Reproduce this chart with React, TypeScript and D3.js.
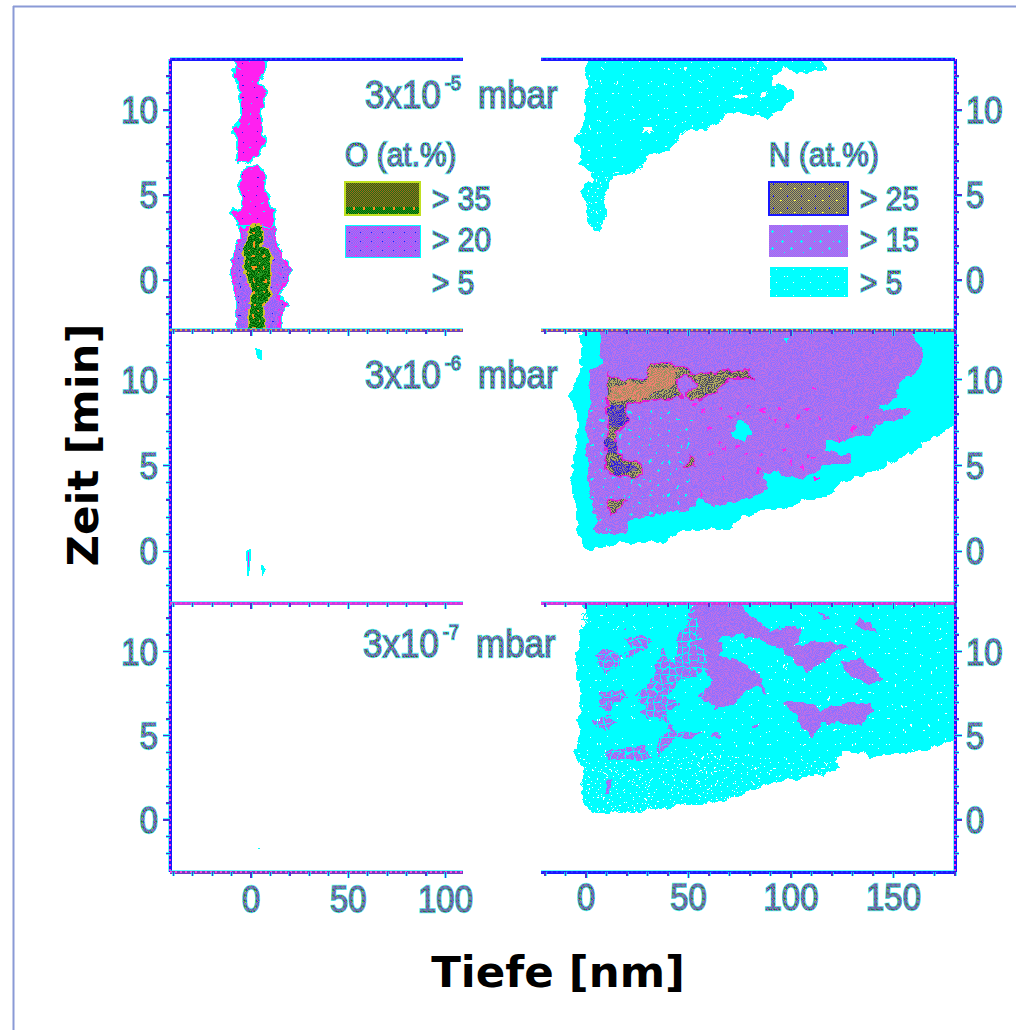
import React from "react";
import * as d3 from "d3";

type P = [number, number];

// ---------- Category labels and tick values ----------
const panelLabels = ["-5", "-6", "-7"];
const yTickLabels = [0, 5, 10];
const leftXTickLabels = [0, 50, 100];
const rightXTickLabels = [0, 50, 100, 150];
const oLegend = ["> 35", "> 20", "> 5"];
const nLegend = ["> 25", "> 15", "> 5"];

// ---------- 3x10^-5 mbar: oxygen contours (nm, min) ----------
const o5Upper: P[] = [[-7,13],[7.2,13],[7.2,12.35],[3.8,11.55],[7.2,11.25],[5.5,10.2],[4.6,9.5],[5.5,8.45],[6.4,7.95],[2.9,7.25],[-6,6.9],[-7,8.25],[-8.25,8.9],[-4,9.7],[-5.3,11.2],[-8.25,11.95]];
const o5Middle: P[] = [[-2.2,6.65],[3.8,6.7],[7.2,6.25],[7.2,5.1],[11.9,3.9],[11.9,3.05],[-5.7,3.05],[-10,3.9],[-4,4.4],[-6,5.5],[-4.8,6.2]];
const o5Lower: P[] = [[-5.3,3.05],[11.9,3.05],[13.2,2.35],[15.8,1.35],[20.1,0.5],[17.5,-0.1],[13.2,-1],[18.4,-1.45],[14.9,-2.15],[14.9,-3.1],[-7,-3.1],[-7,-1.35],[-10,0.6],[-8.25,1.95],[-5.3,2.35]];
const o5High: P[] = [[0.35,3.15],[3.8,3.25],[6.4,2.85],[5.5,1.95],[9.8,1.75],[9.8,-0.8],[6.4,-1.55],[7.2,-3.1],[-1.4,-3.1],[-0.85,-1.55],[0.35,-0.6],[-3.1,0.4],[-4,1.85],[-0.5,2.55]];

// ---------- 3x10^-6 and 3x10^-7 mbar: oxygen specks ----------
const o6SpeckA: P[] = [[-2,0],[-0.5,0.1],[-0.7,-0.7],[-1.5,-1.4],[-2,-0.5]];
const o6SpeckB: P[] = [[5.5,-0.8],[7,-1.05],[6,-1.3]];
const o6SpeckC: P[] = [[2.5,11.8],[5,11.7],[5,11.2],[3.5,11.3]];
const o7Specks: P[] = [[3.5,-1.67]];

// ---------- 3x10^-5 mbar: nitrogen contours ----------
const n5Low: P[] = [[2.8,13],[-1,12.35],[0.3,11.55],[-1.3,10.6],[0.65,9.4],[-5.4,8.35],[-2.9,7.65],[-3.25,6.85],[2.8,6.35],[2.3,5.8],[-2.9,5.2],[0.3,4.4],[0.65,3.7],[3.6,2.8],[6.8,2.85],[9.75,3.8],[8.1,4.5],[10.9,5.5],[13.3,6.1],[21.5,6.2],[26.3,6.55],[31.2,7.45],[40.2,7.55],[45.9,8.45],[50.7,8.85],[54.8,8.7],[63.7,9.2],[70.2,9.9],[78.4,9.85],[88.1,9.55],[94.6,9.9],[100.3,10.6],[100.3,11.2],[96.3,11.35],[90.6,11.55],[90.6,11.95],[97.1,12.45],[106,12.15],[116.6,12.25],[115.8,13]];
const n5Tail: P[] = [[2.8,6.35],[2.3,5.8],[-2.9,5.2],[0.3,4.4],[0.65,3.7],[3.6,2.8],[6.8,2.85],[9.75,3.8],[8.1,4.5],[10.9,5.5],[13.3,6.1]];
const n5HoleA: P[] = [[27.2,9],[31.5,9],[31.5,8.65],[27.2,8.65]];
const n5HoleB: P[] = [[71.9,10.8],[75.1,11],[78.4,10.8],[75.1,10.6]];
const n5HoleC: P[] = [[84.9,10.75],[87.3,11.1],[87.8,10.75]];

// ---------- 3x10^-6 mbar: nitrogen contours ----------
const n6Low: P[] = [[-2.9,12.9],[-2.1,11.95],[-3.7,10.2],[-8.6,8.95],[-4.55,8.25],[-3.7,7.1],[-6.2,5.75],[-6.2,4.75],[-7.8,4],[-5.4,3],[-5.4,1.65],[-2.1,0.5],[1.95,0.1],[16.6,0.5],[37.7,0.45],[45.9,1.2],[70.2,1.3],[76.7,2.05],[86.5,2.35],[97.9,2.55],[106,2.95],[119,3.3],[123.9,4],[141.8,4.75],[156.4,5.65],[172.7,6.8],[181,7.5],[181,12.9]];
const n6Mid: P[] = [[7.15,12.9],[6.8,11.45],[8.45,10.95],[1.15,10.5],[1.95,9.05],[0.3,7.1],[1.15,3.8],[2.75,2.65],[6,1.85],[3.6,1.4],[6,1],[19,1],[22.3,1.95],[36.9,2.15],[54,2.65],[54.8,3.2],[62.1,2.65],[73.5,2.9],[88.9,3.5],[86.5,4.6],[91.4,4.65],[104.4,4.2],[112.5,4.65],[115.8,4.95],[128.8,5.15],[128.8,5.55],[116.6,6],[117.4,6.4],[125.5,6.5],[135.3,6.8],[138.5,6.65],[140.2,7.3],[158,7.95],[158.9,8.2],[153.2,8.45],[145,8.15],[143.4,8.4],[151.5,8.95],[153.2,9.8],[163.7,10.85],[165.4,11.95],[159.7,12.25],[158.9,12.9]];
const n6MidStipple: P[] = [[1.95,9.05],[0.3,7.1],[1.15,3.8],[2.75,2.65],[6,1.85],[3.6,1.4],[6,1],[19,1],[22.3,1.95],[36.9,2.15],[50,2.6],[52,8],[20,8.6]];
const n6HoleA: P[] = [[70.2,6.9],[75.1,7.6],[80,7.4],[81.6,6.9],[76.7,6.4],[71.9,6.6]];
const n6HoleB: P[] = [[94.6,12.4],[98.7,12.4],[97,12.05]];
const n6High: P[] = [[10.4,10.4],[15.8,10],[29.6,10.1],[31.2,10.85],[39.3,11.05],[47.5,10.7],[52.4,10.3],[67,10.5],[70.2,10.6],[80,10.5],[82,10],[78.4,10.1],[70.2,10.1],[65.4,9.5],[57.2,8.85],[50.7,8.75],[49.1,9.15],[53.2,9.7],[52.4,10.1],[49.1,10.2],[44.2,10],[45,9.3],[47.5,8.95],[37.7,8.85],[26.3,8.75],[19,8.5],[20.7,7.7],[16.6,7.1],[14.15,6.9],[15.3,5.75],[17.4,5.35],[26.3,5.25],[27.6,4.55],[24.7,4.3],[14.15,4.35],[10.4,4.75],[9.3,5.95],[10.9,7.1],[10,8.45],[10.4,9.15]];
const n6HighB: P[] = [[10.4,3],[19.9,2.95],[11.8,2.05]];
const n6HighC: P[] = [[50.7,5.55],[53.6,4.95],[48.3,4.95]];
const n6Salmon: P[] = [[10.4,9.15],[15.8,9.8],[29.6,9.9],[32,10.65],[44.2,10.75],[43.4,9.8],[34.5,9.3],[26.3,8.85],[11.7,8.75]];
const n6BlueA: P[] = [[10.4,8.55],[17,8.55],[20.7,7.7],[16.6,7.2],[11.7,7.3]];
const n6BlueB: P[] = [[9.3,6.5],[15,6.5],[15,5.75],[10,5.75]];
const n6BlueC: P[] = [[10.9,5.35],[18.2,5.15],[24.7,4.75],[14.15,4.4]];
const n6Specks: P[] = [[52.4,8.5],[57.2,8.25],[65.4,8.4],[70.2,7.85],[78.4,8.5],[86.5,8.25],[88.9,7.75],[97.9,7.3],[102.8,7.85],[114.1,7.75],[73.5,6.1],[65.4,6.3],[60.5,5.65],[84.9,5.65],[96.3,6.05],[110.9,5.45],[107.6,5.55],[83.3,4.75],[67,4.2],[55.6,3.4],[137.7,7.85],[110.9,9.6],[123.1,6.6],[75,8.1],[92,7.6],[60,7.2],[68,6],[78,5.7],[100,5.2],[105,4.9],[112,4.3],[94,8.4],[108,8.3],[130,7.2]];

// ---------- 3x10^-7 mbar: nitrogen contours ----------
const n7Low: P[] = [[-2.1,13],[0.3,11.95],[-2.9,11.1],[-3.7,10.3],[-5.7,9.7],[-3.25,8.55],[-2.9,6.75],[-3.7,5],[-5.7,4],[-2.1,3.05],[-2.1,1.25],[1.15,0.6],[9.25,0.35],[28,0.5],[44.2,0.8],[65.4,1.05],[78.4,1.65],[89.8,2.15],[107.6,2.55],[123.9,3],[121.5,3.55],[124.7,4],[135.3,4],[138.5,3.8],[151.5,3.9],[167.8,4.2],[175.9,4.75],[181,4.8],[181,13]];
const n7Stipple: P[] = [[-5,4],[60,4],[121,3.5],[123.9,3],[107.6,2.55],[89.8,2.15],[78.4,1.65],[65.4,1.05],[44.2,0.8],[28,0.5],[9.25,0.35],[1.15,0.6],[-2.1,1.25],[-2.1,3.05]];
const n7Grid: P[] = [[-3,13],[52,13],[60,9],[50,3.5],[-3,3.5]];
const n7MidA: P[] = [[52.4,13],[73.5,13],[83.3,11.85],[89.8,11.25],[97.9,11.55],[106,11.35],[101.1,10.3],[112.5,10.7],[128,10.35],[119,9.9],[116.6,9.3],[107.6,8.8],[101.1,9.6],[94.6,10.2],[84.9,10.6],[75.1,11],[66.2,10.9],[65.4,9.7],[75.1,9.5],[84.9,8.6],[88.5,7.4],[83.3,7.95],[76.7,7.55],[73.5,6.95],[63.7,6.6],[54.8,7.4],[62.1,8.35],[57.2,8.8],[45.9,8.35],[40.2,7.35],[45,6.85],[39.3,6.35],[42.6,5.4],[55.6,5.2],[52.4,4.9],[44.2,4.9],[35.3,3.8],[34.5,4.4],[41,5.6],[37.7,6],[26.3,6.2],[29.6,6.65],[24.7,7.35],[33.7,8.55],[34.5,9.5],[36.9,10.3],[43.4,9.2],[44.2,11.1],[49.1,11.45]];
const n7MidB: P[] = [[123.2,9.4],[132.8,9.6],[141.8,8.9],[145,8.35],[138.5,8],[128.8,8.55]];
const n7MidC: P[] = [[96.3,6.95],[112.5,6.9],[114.1,6.45],[120.6,6.85],[127.2,6.95],[140.2,6.95],[139.3,6.35],[133.6,5.5],[125.5,5.85],[114.1,5.65],[110.9,4.9],[106,5.4],[102.8,6.2]];
const n7MidD: P[] = [[3.6,9.8],[9.25,10.15],[18.2,9.8],[16.6,9],[9.25,8.8],[5.2,9.4]];
const n7MidE: P[] = [[19,10.8],[29.6,10.9],[32.9,10.65],[28,10.15],[19.8,9.6],[19,9.9],[23.1,10.3]];
const n7MidF: P[] = [[6.8,7.55],[18.2,7.7],[20.6,7.25],[14.1,6.95],[11.7,6.35],[6.8,6.75]];
const n7MidG: P[] = [[3.6,5.9],[11.7,6.2],[15.3,5.7],[7.65,5.3]];
const n7MidH: P[] = [[9.25,4.1],[29.6,4.4],[31.2,3.65],[21.5,3.55],[11.7,3.65]];
const n7MidI: P[] = [[80,5.6],[84.9,5.8],[84.1,5.45],[81.6,5.4]];
const n7MidJ: P[] = [[60.5,4.9],[62.9,5.4],[66.2,4.8]];
const n7MidK: P[] = [[112.2,12.3],[115.8,12.25],[118.7,11.95],[116.6,11.95]];
const n7MidL: P[] = [[132.8,12.1],[141.8,11.3],[136.9,11.3],[130.7,11.65]];
const n7MidM: P[] = [[17.4,11.35],[19,11.5],[19,11.2]];
const n7MidN: P[] = [[9.25,2.25],[12.5,2.55],[11.7,1.55],[9.25,1.55]];

// ---------- Scales ----------
const xLeft = d3.scaleLinear().domain([-41.7, 109]).range([170, 463]);
const xRight = d3.scaleLinear().domain([-22, 180]).range([541, 955]);
const y5 = d3.scaleLinear().domain([-3, 13]).range([331, 59]);
const y6 = d3.scaleLinear().domain([-3, 12.9]).range([603, 330]);
const y7 = d3.scaleLinear().domain([-3.1, 12.9]).range([872, 603]);
const yPanels = [y5, y6, y7];

const leftXTicks = d3.range(-40, 101, 10);
const rightXTicks = d3.range(-20, 181, 10);
const yTicks = d3.range(-2, 13, 1);

const path = (pts: P[], x: any, y: any) =>
  d3.line<P>().x((d) => x(d[0])).y((d) => y(d[1])).curve(d3.curveLinear)(pts) + "Z";

const CYAN = "#00ffff";
const SANS = "'Liberation Sans', Arial, sans-serif";
const EXTRA = ["#ff9020", "#00ff40", "#ffff40", "#1818ff", CYAN, "#ffffff", "#ff20f0"];

function Tile({ id, size, colors, extra }: { id: string; size: number[]; colors: string[][]; extra?: number[][] }) {
  const [w, h] = size;
  return (
    <pattern id={id} patternUnits="userSpaceOnUse" width={w} height={h}>
      {d3.range(h).flatMap((j) =>
        d3.range(w).map((i) => (
          <rect key={i + "-" + j} x={i} y={j} width={1} height={1} fill={colors[j % colors.length][i % colors[0].length]} />
        ))
      )}
      {(extra || []).map((e, k) => (
        <rect key={"e" + k} x={e[0]} y={e[1]} width={e[2]} height={e[3]} fill={EXTRA[e[4]]} />
      ))}
    </pattern>
  );
}

function FText({ x, y, size, children, anchor, sy }: any) {
  const common = {
    transform: `translate(${x},${y}) scale(1,${sy || 1.1})`,
    fontSize: size,
    fontFamily: SANS,
    textAnchor: anchor || "start",
  };
  return (
    <g>
      <text {...common} fill={CYAN} stroke={CYAN} strokeWidth={2.2} opacity={0.6}>{children}</text>
      <text {...common} fill="url(#fringe)" stroke="url(#fringe)" strokeWidth={0.8}>{children}</text>
    </g>
  );
}

function Area({ d, fill, edge, halo }: { d: string; fill: string; edge?: string; halo?: boolean }) {
  return (
    <g shapeRendering="crispEdges">
      {halo && <path d={d} fill="none" stroke={CYAN} strokeWidth={3.5} />}
      <path d={d} fill={fill} stroke={edge || "none"} strokeWidth={edge ? 1.5 : 0} />
    </g>
  );
}

function AxisLine({ x1, y1, x2, y2, main, dash }: any) {
  return (
    <g shapeRendering="crispEdges">
      <line x1={x1} y1={y1} x2={x2} y2={y2} stroke={CYAN} strokeWidth={4.5} opacity={0.6} />
      <line x1={x1} y1={y1} x2={x2} y2={y2} stroke={main} strokeWidth={3} />
      <line x1={x1} y1={y1} x2={x2} y2={y2} stroke={dash} strokeWidth={2} strokeDasharray="2 3" />
    </g>
  );
}

function Tick({ x1, y1, x2, y2 }: any) {
  return (
    <g shapeRendering="crispEdges">
      <line x1={x1} y1={y1} x2={x2} y2={y2} stroke={CYAN} strokeWidth={3} opacity={0.7} />
      <line x1={x1} y1={y1} x2={x2} y2={y2} stroke="#5030d0" strokeWidth={1.3} />
    </g>
  );
}

export default function App() {
  const purple = "url(#purple)";
  const grey = "url(#grey)";
  const r5 = (p: P[]) => path(p, xRight, y5);
  const r6 = (p: P[]) => path(p, xRight, y6);
  const r7 = (p: P[]) => path(p, xRight, y7);
  const l5 = (p: P[]) => path(p, xLeft, y5);
  const l6 = (p: P[]) => path(p, xLeft, y6);

  const panelTitleY = [108, 388, 657];
  const panelTitleX = [365, 365, 363];
  const panelTops = [59, 330, 603];
  const panelMain = ["#1818ff", "#7040c0", "#c040e0"];
  const panelDash = ["#5030ff", "#e0a040", "#ff30e0"];

  return (
    <svg width={1016} height={1030} viewBox="0 0 1016 1030" style={{ position: "absolute", left: 0, top: 0, display: "block", background: "#fff" }}>
      <defs>
        <Tile id="purple" size={[2, 2]} colors={[["#9070ff", "#bc70e8"], ["#bc70e8", "#9070ff"]]} />
        <Tile id="grey" size={[8, 8]} colors={[["#505060", "#b0a860"], ["#b0a860", "#505060"]]} extra={[[3, 3, 1, 1, 3]]} />
        <Tile id="greyLeg" size={[14, 12]} colors={[["#505060", "#b0a860"], ["#b0a860", "#505060"]]} extra={[[3, 3, 1, 2, 3], [10, 8, 2, 1, 2]]} />
        <Tile id="salmon" size={[4, 4]} colors={[["#f08070", "#a09060"], ["#a09060", "#f08070"]]} />
        <Tile id="blue" size={[4, 4]} colors={[["#3020e0", "#8a7090"], ["#8a7090", "#3020e0"]]} />
        <Tile id="green" size={[10, 12]} colors={[["#006000", "#209820"], ["#209820", "#006000"]]} extra={[[3, 3, 2, 3, 0], [8, 9, 1, 2, 0]]} />
        <Tile id="olive" size={[2, 2]} colors={[["#a86018", "#187818"], ["#187818", "#a86018"]]} />
        <Tile id="magenta" size={[13, 11]} colors={[["#ff20f0"]]} extra={[[3, 4, 1, 1, 4], [9, 9, 1, 1, 3]]} />
        <Tile id="o20" size={[11, 9]} colors={[["#8a66ff", "#c060f0"], ["#c060f0", "#8a66ff"]]} extra={[[3, 3, 2, 1, 6], [8, 7, 1, 1, 3]]} />
        <Tile id="cyanGrid" size={[7, 7]} colors={[["rgba(0,0,0,0)"]]} extra={[[3, 0, 1, 7, 4], [0, 3, 7, 1, 4]]} />
        <Tile id="cyanDots" size={[19, 17]} colors={[["rgba(0,0,0,0)"]]} extra={[[3, 2, 1, 3, 4], [2, 3, 3, 1, 4], [12, 9, 1, 3, 4], [11, 10, 3, 1, 4], [16, 3, 1, 1, 4], [5, 14, 1, 1, 4]]} />
        <Tile id="whiteDense" size={[18, 18]} colors={[["rgba(0,0,0,0)"]]} extra={[[0, 0, 1, 1, 5], [6, 1, 1, 1, 5], [12, 0, 1, 1, 5], [3, 6, 1, 1, 5], [9, 5, 1, 1, 5], [15, 7, 1, 1, 5], [1, 11, 1, 1, 5], [7, 12, 1, 1, 5], [13, 10, 1, 1, 5], [4, 15, 1, 1, 5], [10, 16, 1, 1, 5], [16, 14, 1, 1, 5]]} />
        <Tile id="whiteSparse" size={[17, 13]} colors={[["rgba(0,0,0,0)"]]} extra={[[2, 3, 1, 1, 5], [5, 3, 1, 1, 5], [11, 9, 1, 1, 5]]} />
        <Tile id="fringe" size={[5, 5]} colors={[["#1a30e0", "#20b040", "#e020d0", "#707050", "#20c040"], ["#30a030", "#d020c0", "#2828d8", "#30b030", "#d8c030"], ["#d820d0", "#2030e0", "#606060", "#e020c0", "#2030e0"], ["#30c040", "#808040", "#2030e0", "#30b040", "#e020d0"], ["#2828e0", "#e020d0", "#30b040", "#303050", "#30a040"]]} />
        <filter id="rough" filterUnits="userSpaceOnUse" x={0} y={0} width={1016} height={1030} colorInterpolationFilters="sRGB">
          <feTurbulence type="fractalNoise" baseFrequency="0.11" numOctaves={2} seed={4} result="n" />
          <feDisplacementMap in="SourceGraphic" in2="n" scale={9} xChannelSelector="R" yChannelSelector="G" />
        </filter>
        <clipPath id="c5"><rect x={170} y={59} width={785} height={271} /></clipPath>
        <clipPath id="c6"><rect x={170} y={330} width={785} height={273} /></clipPath>
        <clipPath id="c7"><rect x={170} y={603} width={785} height={269} /></clipPath>
      </defs>

      {/* Page frame */}
      <line x1={13.5} y1={6} x2={13.5} y2={1030} stroke="#8a9ad6" strokeWidth={2} />
      <line x1={13} y1={6.5} x2={1016} y2={6.5} stroke="#8a9ad6" strokeWidth={2} />

      {/* 3x10^-5 mbar */}
      <g clipPath="url(#c5)">
        <g filter="url(#rough)">
          <Area d={l5(o5Upper)} fill="url(#magenta)" halo />
          <Area d={l5(o5Middle)} fill="url(#magenta)" halo />
          <Area d={l5(o5Lower)} fill="url(#o20)" edge="#ff20f0" halo />
          <Area d={l5(o5High)} fill="url(#green)" edge="#d0c030" />
          <Area d={r5(n5Low)} fill={CYAN} />
          <Area d={r5(n5Low)} fill="url(#whiteSparse)" />
          <Area d={r5(n5Tail)} fill="url(#whiteDense)" />
          {[n5HoleA, n5HoleB, n5HoleC].map((h, i) => <Area key={i} d={r5(h)} fill="#fff" />)}
        </g>
      </g>

      {/* 3x10^-6 mbar */}
      {[o6SpeckA, o6SpeckB, o6SpeckC].map((h, i) => <Area key={i} d={l6(h)} fill={i === 0 ? "#ff20f0" : CYAN} edge={CYAN} />)}
      <g clipPath="url(#c6)">
        <g filter="url(#rough)">
          <Area d={r6(n6Low)} fill={CYAN} />
          <Area d={r6(n6Mid)} fill={purple} />
          <Area d={r6(n6MidStipple)} fill="url(#cyanDots)" />
          {[n6HoleA, n6HoleB].map((h, i) => <Area key={i} d={r6(h)} fill={CYAN} />)}
          {n6Specks.map((p, i) => (
            <g key={i} fill="#ff20f0" shapeRendering="crispEdges">
              <rect x={xRight(p[0]) - 2} y={y6(p[1]) - 0.5} width={5} height={1.5} />
              <rect x={xRight(p[0]) - 0.5} y={y6(p[1]) - 2} width={1.5} height={5} />
            </g>
          ))}
          <Area d={r6(n6High)} fill={grey} edge="#e020d0" />
          <Area d={r6(n6HighB)} fill={grey} edge="#e020d0" />
          <Area d={r6(n6HighC)} fill={grey} edge="#e020d0" />
          <Area d={r6(n6Salmon)} fill="url(#salmon)" />
          {[n6BlueA, n6BlueB, n6BlueC].map((h, i) => <Area key={i} d={r6(h)} fill="url(#blue)" />)}
        </g>
      </g>

      {/* 3x10^-7 mbar */}
      {o7Specks.map((p, i) => (
        <rect key={i} x={xLeft(p[0])} y={y7(p[1])} width={2} height={1} fill={CYAN} shapeRendering="crispEdges" />
      ))}
      <g clipPath="url(#c7)">
        <g filter="url(#rough)">
          <Area d={r7(n7Low)} fill={CYAN} />
          <Area d={r7(n7Low)} fill="url(#whiteSparse)" />
          <Area d={r7(n7Stipple)} fill="url(#whiteDense)" />
          {[n7MidA, n7MidB, n7MidC, n7MidD, n7MidE, n7MidF, n7MidG, n7MidH, n7MidI, n7MidJ, n7MidK, n7MidL, n7MidM, n7MidN].map((h, i) => (
            <Area key={i} d={r7(h)} fill={purple} />
          ))}
          <Area d={r7(n7Grid)} fill="url(#cyanGrid)" />
        </g>
      </g>

      {/* Axes: vertical spines */}
      <AxisLine x1={170} y1={59} x2={170} y2={872} main="#1818ff" dash="#ff20e0" />
      <AxisLine x1={955} y1={59} x2={955} y2={872} main="#1818ff" dash="#ff20e0" />

      {/* Axes: horizontal spines */}
      {panelTops.map((t, i) => (
        <g key={t}>
          <AxisLine x1={170} y1={t} x2={463} y2={t} main={panelMain[i]} dash={panelDash[i]} />
          <AxisLine x1={541} y1={t} x2={955} y2={t} main={panelMain[i]} dash={panelDash[i]} />
        </g>
      ))}
      <AxisLine x1={170} y1={872} x2={463} y2={872} main="#7040c0" dash="#ff40e0" />
      <AxisLine x1={541} y1={872} x2={955} y2={872} main="#1818ff" dash="#3030ff" />

      {/* Ticks */}
      {yPanels.map((y, i) =>
        yTicks.map((v) => {
          const long = v % 5 === 0;
          return (
            <g key={i + "-" + v}>
              <Tick x1={170} x2={long ? 163 : 166} y1={y(v)} y2={y(v)} />
              <Tick x1={955} x2={long ? 962 : 959} y1={y(v)} y2={y(v)} />
            </g>
          );
        })
      )}
      {[330, 603, 872].map((base) => (
        <g key={base}>
          {leftXTicks.map((v) => (
            <Tick key={v} x1={xLeft(v)} x2={xLeft(v)} y1={base} y2={base + (v % 50 === 0 ? 6 : 4)} />
          ))}
          {rightXTicks.map((v) => (
            <Tick key={v} x1={xRight(v)} x2={xRight(v)} y1={base} y2={base + (v % 50 === 0 ? 6 : 4)} />
          ))}
        </g>
      ))}

      {/* Tick labels */}
      {yPanels.map((y, i) =>
        yTickLabels.map((v) => (
          <g key={i + "-" + v}>
            <FText x={158} y={y(v) + 13} size={33} anchor="end">{v}</FText>
            <FText x={966} y={y(v) + 13} size={33}>{v}</FText>
          </g>
        ))
      )}
      {leftXTickLabels.map((v) => (
        <FText key={v} x={xLeft(v)} y={912} size={33} anchor="middle">{v}</FText>
      ))}
      {rightXTickLabels.map((v) => (
        <FText key={v} x={xRight(v)} y={910} size={33} anchor="middle">{v}</FText>
      ))}

      {/* Panel titles */}
      {panelLabels.map((l, i) => (
        <g key={l}>
          <FText x={panelTitleX[i]} y={panelTitleY[i]} size={35}>3x10</FText>
          <FText x={panelTitleX[i] + 80} y={panelTitleY[i] - 18} size={18}>{l}</FText>
          <FText x={panelTitleX[i] + 113} y={panelTitleY[i]} size={35}>mbar</FText>
        </g>
      ))}

      {/* O legend */}
      <FText x={345} y={166} size={30}>O (at.%)</FText>
      <rect x={345} y={182} width={75} height={33} fill="url(#olive)" stroke="#c0e020" strokeWidth={1.5} shapeRendering="crispEdges" />
      <rect x={346} y={207} width={73} height={7} fill="url(#green)" shapeRendering="crispEdges" />
      <rect x={345} y={225} width={75} height={32} fill="url(#o20)" stroke={CYAN} strokeWidth={1} shapeRendering="crispEdges" />
      {oLegend.map((l, i) => (
        <FText key={l} x={432} y={[210, 251, 294][i]} size={30}>{l}</FText>
      ))}

      {/* N legend */}
      <FText x={769} y={166} size={30}>N (at.%)</FText>
      <rect x={769} y={182} width={79} height={33} fill="url(#greyLeg)" stroke="#1818ff" strokeWidth={1.5} shapeRendering="crispEdges" />
      <rect x={769} y={225} width={79} height={32} fill={purple} shapeRendering="crispEdges" />
      <rect x={769} y={225} width={79} height={32} fill="url(#cyanDots)" shapeRendering="crispEdges" />
      <rect x={770} y={267} width={78} height={30} fill={CYAN} shapeRendering="crispEdges" />
      <rect x={770} y={267} width={78} height={30} fill="url(#whiteSparse)" shapeRendering="crispEdges" />
      {nLegend.map((l, i) => (
        <FText key={l} x={860} y={[210, 251, 294][i]} size={30}>{l}</FText>
      ))}

      {/* Axis titles */}
      <text x={558} y={987} textAnchor="middle" fontFamily="'DejaVu Sans', Verdana, sans-serif" fontWeight="bold" fontSize={43.5} fill="#000">Tiefe [nm]</text>
      <text transform="translate(98,445) rotate(-90)" textAnchor="middle" fontFamily="'DejaVu Sans', Verdana, sans-serif" fontWeight="bold" fontSize={43.5} fill="#000">Zeit [min]</text>
    </svg>
  );
}
